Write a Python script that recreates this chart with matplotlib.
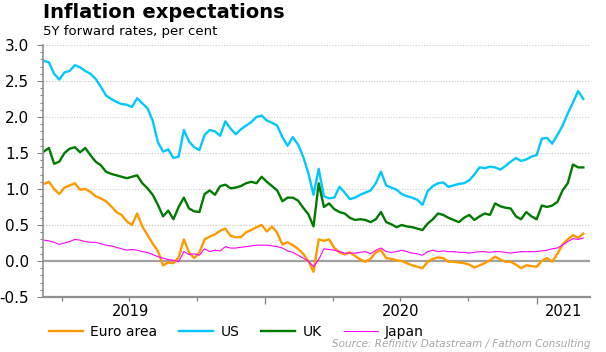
import numpy as np
import pandas as pd
import matplotlib
matplotlib.use("Agg")
import matplotlib.pyplot as plt
import matplotlib.dates as mdates
import matplotlib.transforms as mtransforms

# weekly observations, 5Y forward inflation rates (per cent)
dates = pd.date_range("2019-03-08", periods=105, freq="7D")

euro_area = [
    1.07, 1.10, 1.00, 0.93, 1.02, 1.05, 1.08, 0.99, 1.00, 0.96,
    0.90, 0.87, 0.83, 0.76, 0.68, 0.64, 0.55, 0.50, 0.66, 0.48,
    0.36, 0.24, 0.14, -0.06, -0.02, -0.03, 0.05, 0.30, 0.12, 0.04,
    0.12, 0.30, 0.34, 0.37, 0.42, 0.45, 0.35, 0.33, 0.33, 0.40,
    0.43, 0.47, 0.50, 0.41, 0.48, 0.39, 0.23, 0.26, 0.22, 0.17,
    0.10, 0.00, -0.15, 0.30, 0.28, 0.30, 0.18, 0.12, 0.09, 0.12,
    0.07, 0.02, -0.01, 0.03, 0.12, 0.15, 0.04, 0.03, 0.01, 0.00,
    -0.03, -0.06, -0.08, -0.10, -0.01, 0.03, 0.05, 0.04, -0.01, -0.01,
    -0.02, -0.03, -0.05, -0.09, -0.06, -0.03, 0.01, 0.06, 0.02, -0.01,
    -0.01, -0.05, -0.10, -0.06, -0.07, -0.08, 0.00, 0.04, -0.01, 0.10,
    0.23, 0.30, 0.36, 0.32, 0.38,
]

us = [
    2.78, 2.76, 2.60, 2.52, 2.62, 2.64, 2.72, 2.69, 2.64, 2.60,
    2.53, 2.42, 2.30, 2.25, 2.21, 2.18, 2.17, 2.14, 2.26, 2.19,
    2.12, 1.95, 1.65, 1.52, 1.55, 1.43, 1.45, 1.82, 1.66, 1.58,
    1.54, 1.75, 1.82, 1.80, 1.74, 1.94, 1.84, 1.76, 1.83, 1.88,
    1.93, 2.00, 2.02, 1.95, 1.92, 1.88, 1.72, 1.60, 1.72, 1.62,
    1.45, 1.22, 0.92, 1.28, 0.90, 0.87, 0.88, 1.03, 0.95, 0.86,
    0.88, 0.92, 0.95, 0.98, 1.08, 1.24, 1.05, 1.02, 0.99, 0.93,
    0.90, 0.88, 0.85, 0.78, 0.97, 1.04, 1.08, 1.09, 1.03, 1.05,
    1.07, 1.08, 1.12, 1.20, 1.30, 1.29, 1.31, 1.30, 1.27, 1.32,
    1.38, 1.43, 1.39, 1.41, 1.45, 1.47, 1.70, 1.71, 1.63, 1.75,
    1.88, 2.05, 2.20, 2.36, 2.25,
]

uk = [
    1.52, 1.57, 1.35, 1.38, 1.50, 1.56, 1.58, 1.51, 1.57, 1.47,
    1.38, 1.33, 1.24, 1.21, 1.19, 1.17, 1.15, 1.17, 1.19, 1.08,
    1.01, 0.92, 0.78, 0.62, 0.70, 0.58, 0.75, 0.88, 0.73, 0.69,
    0.68, 0.93, 0.98, 0.92, 1.04, 1.06, 1.01, 1.02, 1.04, 1.08,
    1.10, 1.08, 1.17, 1.10, 1.04, 0.98, 0.83, 0.88, 0.88, 0.84,
    0.74, 0.65, 0.48, 1.08, 0.75, 0.80, 0.72, 0.68, 0.66, 0.60,
    0.57, 0.58, 0.57, 0.54, 0.58, 0.68, 0.54, 0.51, 0.47, 0.50,
    0.48, 0.47, 0.45, 0.43, 0.52, 0.58, 0.66, 0.64, 0.60, 0.57,
    0.54, 0.60, 0.64, 0.57, 0.62, 0.66, 0.64, 0.80, 0.76, 0.74,
    0.73, 0.62, 0.58, 0.68, 0.62, 0.58, 0.77, 0.75, 0.77, 0.82,
    0.98, 1.08, 1.34, 1.30, 1.30,
]

japan = [
    0.29, 0.28, 0.26, 0.23, 0.25, 0.27, 0.30, 0.29, 0.27, 0.26,
    0.26, 0.24, 0.22, 0.21, 0.19, 0.17, 0.15, 0.16, 0.15, 0.13,
    0.12, 0.09, 0.06, 0.04, 0.02, 0.01, -0.01, 0.13, 0.09, 0.10,
    0.08, 0.17, 0.13, 0.15, 0.14, 0.20, 0.18, 0.18, 0.19, 0.20,
    0.21, 0.22, 0.22, 0.22, 0.21, 0.20, 0.18, 0.14, 0.12, 0.08,
    0.04, 0.00, -0.08, 0.02, 0.17, 0.16, 0.15, 0.13, 0.11, 0.11,
    0.11, 0.12, 0.13, 0.10, 0.15, 0.18, 0.13, 0.12, 0.13, 0.15,
    0.13, 0.11, 0.10, 0.08, 0.13, 0.15, 0.13, 0.14, 0.13, 0.13,
    0.12, 0.12, 0.11, 0.12, 0.13, 0.13, 0.12, 0.13, 0.13, 0.12,
    0.11, 0.12, 0.13, 0.13, 0.13, 0.13, 0.14, 0.15, 0.17, 0.18,
    0.22, 0.27, 0.31, 0.30, 0.32,
]

series_names = ["Euro area", "US", "UK", "Japan"]
year_labels = ["2019", "2020", "2021"]

plt.rcParams["font.family"] = ["DejaVu Sans"]

W, H = 606, 352
fig = plt.figure(figsize=(W / 100, H / 100), dpi=100)
ax = fig.add_axes([43 / W, 1 - 297 / H, (590 - 43) / W, (297 - 45) / H])

ax.plot(dates, euro_area, color="#FF9900", lw=1.7, label=series_names[0])
ax.plot(dates, us, color="#00C8FF", lw=1.7, label=series_names[1])
ax.plot(dates, uk, color="#007A00", lw=1.7, label=series_names[2])
ax.plot(dates, japan, color="#FF00FF", lw=0.8, label=series_names[3])

ax.set_ylim(-0.5, 3.0)
ax.set_xlim(pd.Timestamp("2019-03-07"), pd.Timestamp("2021-03-14"))

# grid and zero line
for v in np.arange(0.5, 3.01, 0.5):
    ax.axhline(v, color="#C8C8C8", lw=0.8, ls=(0, (1, 1.5)), zorder=0)
ax.axhline(0, color="#A0A0A0", lw=1.6, zorder=0.5)

ax.yaxis.set_major_locator(plt.MultipleLocator(0.5))
ax.yaxis.set_minor_locator(plt.MultipleLocator(0.1))
ax.yaxis.set_major_formatter(plt.FormatStrFormatter("%.1f"))
ax.tick_params(axis="y", which="major", length=4, width=0.8, color="#808080",
               labelsize=11, pad=6, labelcolor="black")
ax.tick_params(axis="y", which="minor", length=2.5, width=0.8, color="#808080")

ax.xaxis.set_major_locator(mdates.YearLocator())
ax.xaxis.set_minor_locator(mdates.MonthLocator([1, 4, 7, 10]))
ax.xaxis.set_major_formatter(plt.NullFormatter())
ax.tick_params(axis="x", which="major", length=5, width=0.9, color="#808080")
ax.tick_params(axis="x", which="minor", length=3, width=0.9, color="#808080")

for side in ["top", "right"]:
    ax.spines[side].set_visible(False)
ax.spines["left"].set_color("#909090")
ax.spines["left"].set_linewidth(1.2)
ax.spines["bottom"].set_color("#909090")
ax.spines["bottom"].set_linewidth(1.6)

# year labels centred on the visible part of each year
trans = mtransforms.blended_transform_factory(ax.transData, ax.transAxes)
lo, hi = ax.get_xlim()
for lab in year_labels:
    y0 = mdates.date2num(pd.Timestamp(lab + "-01-01"))
    y1 = mdates.date2num(pd.Timestamp(str(int(lab) + 1) + "-01-01"))
    if y1 > hi:
        xc = (y0 + hi) / 2
    else:
        xc = (y0 + y1) / 2
    ax.text(xc, -14 / 252, lab, transform=trans, ha="center", va="center",
            fontsize=10.5)

fig.text(43 / W, 1 - 13 / H, "Inflation expectations", fontsize=14, fontweight="bold",
         va="center", ha="left")
fig.text(43 / W, 1 - 31 / H, "5Y forward rates, per cent", fontsize=9.5,
         va="center", ha="left")

fig.legend(loc="center left", bbox_to_anchor=(49 / W, 1 - 332 / H), ncol=4,
           frameon=False, fontsize=10, handlelength=2.45, handletextpad=0.5,
           columnspacing=1.6, borderpad=0, borderaxespad=0)

fig.text(590 / W, 1 - 344 / H, "Source: Refinitiv Datastream / Fathom Consulting",
         fontsize=7.5, style="italic", color="#A6A6A6", ha="right", va="center")

fig.savefig("out.png", dpi=100)
